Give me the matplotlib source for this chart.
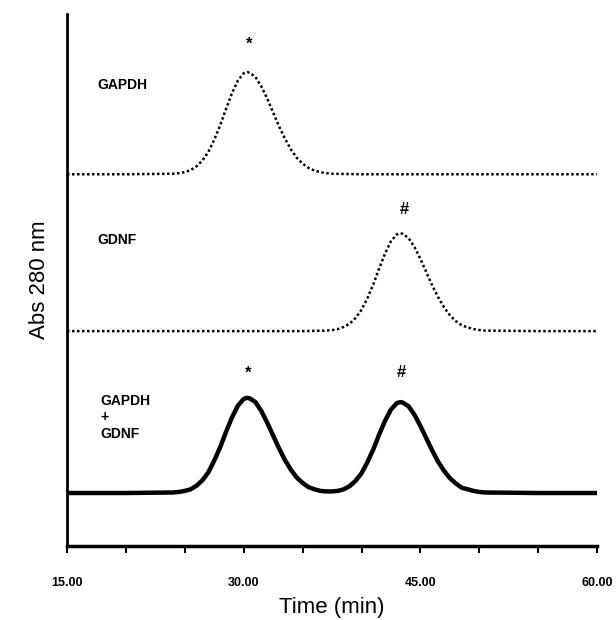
import matplotlib.pyplot as plt
import numpy as np

# chromatogram traces, signal above each trace's own baseline
gapdh_t = [15, 20, 24.0, 24.5, 25.0, 25.5, 26.0, 26.5, 27.0, 27.5, 28.0, 28.5, 29.0, 29.5,
           30.0, 30.3, 30.5, 31.0, 31.5, 32.0, 32.5, 33.0, 33.5, 34.0, 34.5, 35.0, 35.5,
           36.0, 36.5, 37.0, 37.5, 40, 45, 50, 55, 60]
gapdh_y = [0, 0, 0.001, 0.002, 0.004, 0.008, 0.015, 0.026, 0.042, 0.065, 0.092, 0.123, 0.152, 0.176,
           0.190, 0.192, 0.191, 0.183, 0.165, 0.142, 0.116, 0.090, 0.067, 0.047, 0.031, 0.020, 0.012,
           0.007, 0.004, 0.002, 0.001, 0, 0, 0, 0, 0]

gdnf_t = [15, 20, 25, 30, 35, 37.0, 37.5, 38.0, 38.5, 39.0, 39.5, 40.0, 40.5, 41.0, 41.5, 42.0,
          42.5, 43.0, 43.3, 43.5, 44.0, 44.5, 45.0, 45.5, 46.0, 46.5, 47.0, 47.5, 48.0, 48.5,
          49.0, 49.5, 50.0, 50.5, 55, 60]
gdnf_y = [0, 0, 0, 0, 0, 0.001, 0.002, 0.004, 0.008, 0.014, 0.025, 0.040, 0.062, 0.088, 0.118, 0.146,
          0.169, 0.182, 0.184, 0.183, 0.175, 0.158, 0.136, 0.111, 0.086, 0.064, 0.045, 0.030, 0.019, 0.011,
          0.007, 0.004, 0.002, 0.001, 0, 0]

mix_t = [15, 20, 24.0, 24.5, 25.0, 25.5, 26.0, 26.5, 27.0, 27.5, 28.0, 28.5, 29.0, 29.5,
         30.0, 30.3, 30.5, 31.0, 31.5, 32.0, 32.5, 33.0, 33.5, 34.0, 34.5, 35.0, 35.5,
         36.0, 36.5, 37.0, 37.5, 38.0, 38.5, 39.0, 39.5, 40.0, 40.5, 41.0, 41.5, 42.0,
         42.5, 43.0, 43.3, 43.5, 44.0, 44.5, 45.0, 45.5, 46.0, 46.5, 47.0, 47.5, 48.0, 48.5,
         49.0, 49.5, 50.0, 50.5, 55, 60]
mix_y = [0, 0, 0.001, 0.002, 0.004, 0.007, 0.014, 0.024, 0.039, 0.061, 0.086, 0.115, 0.142, 0.164,
         0.177, 0.179, 0.178, 0.171, 0.154, 0.132, 0.108, 0.084, 0.062, 0.044, 0.029, 0.019, 0.011,
         0.007, 0.004, 0.003, 0.003, 0.004, 0.007, 0.013, 0.023, 0.037, 0.058, 0.082, 0.110, 0.136,
         0.157, 0.169, 0.171, 0.170, 0.163, 0.147, 0.126, 0.103, 0.080, 0.059, 0.042, 0.028, 0.018, 0.010,
         0.007, 0.004, 0.002, 0.001, 0, 0]

xticks = [15, 30, 45, 60]
xtick_labels = ['15.00', '30.00', '45.00', '60.00']

# vertical stacking of the three runs
off_gapdh, off_gdnf, off_mix = 0.699, 0.404, 0.0996

plt.rcParams['font.family'] = ['Liberation Sans', 'DejaVu Sans']

fig = plt.figure(figsize=(6.16, 6.20), dpi=100)
ax = fig.add_axes([0.1088, 0.1194, 0.8605, 0.8577])

ax.plot(gapdh_t, np.array(gapdh_y) + off_gapdh, color='black', lw=1.8, ls=(0, (1, 1)))
ax.plot(gdnf_t, np.array(gdnf_y) + off_gdnf, color='black', lw=1.8, ls=(0, (1, 1)))
ax.plot(mix_t, np.array(mix_y) + off_mix, color='black', lw=3.2,
        solid_joinstyle='round', solid_capstyle='round')

ax.set_xlim(15, 60)
ax.set_ylim(0, 1)
ax.set_xticks(xticks)
ax.set_xticklabels(xtick_labels, fontsize=9, fontweight='bold')
ax.set_xticks(np.arange(15, 61, 5), minor=True)
ax.tick_params(axis='x', which='both', direction='out', length=5, width=1.5, pad=17)
ax.set_yticks([])
for s in ['top', 'right']:
    ax.spines[s].set_visible(False)
ax.spines['left'].set_linewidth(2)
ax.spines['bottom'].set_linewidth(2.5)

lab = dict(fontsize=10, fontweight='bold', va='center', ha='left')
ax.text(17.55, 0.867, 'GAPDH', **lab)
ax.text(17.55, 0.575, 'GDNF', **lab)
ax.text(17.8, 0.242, 'GAPDH\n+\nGDNF', linespacing=1.25, **lab)

mk = dict(fontsize=12, fontweight='bold', ha='center', va='center')
ax.text(30.45, 0.944, '*', **mk)
ax.text(43.6, 0.632, '#', **mk)
ax.text(30.35, 0.325, '*', **mk)
ax.text(43.4, 0.327, '#', **mk)

ax.set_xlabel('Time (min)', fontsize=16, labelpad=6)
ax.set_ylabel('Abs 280 nm', fontsize=16, labelpad=12)

fig.savefig('out.png', dpi=100)
